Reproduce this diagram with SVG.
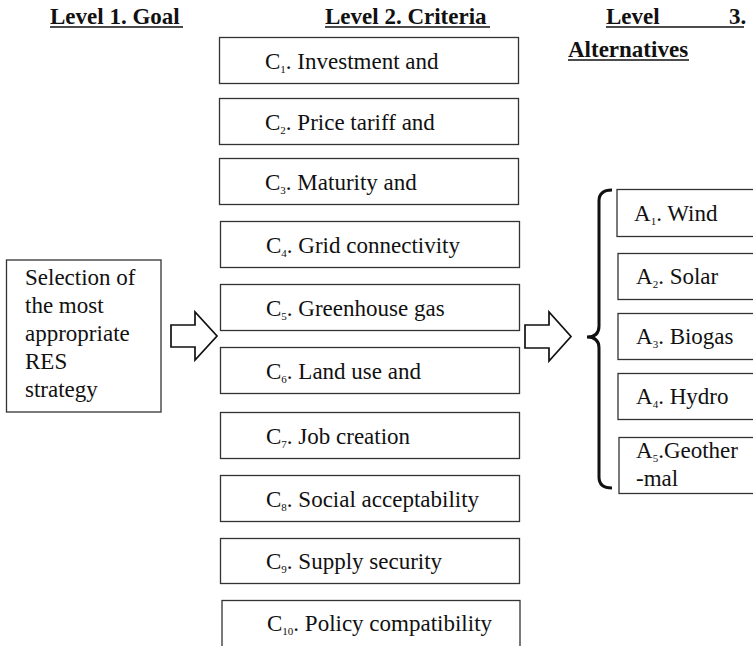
<svg xmlns="http://www.w3.org/2000/svg" width="753" height="646" viewBox="0 0 753 646">
<style>
text{font-family:"Liberation Serif","Times New Roman",serif;font-size:23px;fill:#111}
.h{font-weight:bold}
.box{fill:#fff;stroke:#333;stroke-width:1.3}
.arr{fill:#fff;stroke:#111;stroke-width:1.7;stroke-linejoin:miter}
.ul{stroke:#111;stroke-width:1.6}
.s{font-size:11px}
</style>
<rect width="753" height="646" fill="#fff"/>
<g id="headers">
<text class="h" x="50" y="24">Level 1. Goal</text>
<line class="ul" x1="50" y1="27" x2="183" y2="27"/>
<text class="h" x="325" y="24">Level 2. Criteria</text>
<line class="ul" x1="325" y1="27" x2="490" y2="27"/>
<text class="h" x="606" y="24">Level</text>
<text class="h" x="729" y="24">3.</text>
<line class="ul" x1="606" y1="27" x2="744" y2="27"/>
<text class="h" x="568" y="57">Alternatives</text>
<line class="ul" x1="568" y1="60" x2="689" y2="60"/>
</g>
<g id="goal">
<rect class="box" x="6.5" y="260" width="154.5" height="152"/>
<text x="25" y="285">Selection of</text>
<text x="25" y="313">the most</text>
<text x="25" y="341">appropriate</text>
<text x="25" y="369">RES</text>
<text x="25" y="397">strategy</text>
</g>
<g id="c1"><rect class="box" x="219.5" y="37.5" width="299" height="46"/><text x="265" y="68.5">C<tspan class="s" dy="4">1</tspan><tspan dy="-4">. Investment and</tspan></text></g>
<g id="c2"><rect class="box" x="219.5" y="98.5" width="299" height="46"/><text x="265" y="129.5">C<tspan class="s" dy="4">2</tspan><tspan dy="-4">. Price tariff and</tspan></text></g>
<g id="c3"><rect class="box" x="219.5" y="158.5" width="299" height="46"/><text x="265" y="189.5">C<tspan class="s" dy="4">3</tspan><tspan dy="-4">. Maturity and</tspan></text></g>
<g id="c4"><rect class="box" x="220.5" y="221.5" width="299" height="46"/><text x="266" y="252.5">C<tspan class="s" dy="4">4</tspan><tspan dy="-4">. Grid connectivity</tspan></text></g>
<g id="c5"><rect class="box" x="220.5" y="284.5" width="299" height="46"/><text x="266" y="315.5">C<tspan class="s" dy="4">5</tspan><tspan dy="-4">. Greenhouse gas</tspan></text></g>
<g id="c6"><rect class="box" x="220.5" y="347.5" width="299" height="46"/><text x="266" y="378.5">C<tspan class="s" dy="4">6</tspan><tspan dy="-4">. Land use and</tspan></text></g>
<g id="c7"><rect class="box" x="220.5" y="412.5" width="299" height="46"/><text x="266" y="443.5">C<tspan class="s" dy="4">7</tspan><tspan dy="-4">. Job creation</tspan></text></g>
<g id="c8"><rect class="box" x="220.5" y="475.5" width="299" height="46"/><text x="266" y="506.5">C<tspan class="s" dy="4">8</tspan><tspan dy="-4">. Social acceptability</tspan></text></g>
<g id="c9"><rect class="box" x="220.5" y="538.5" width="299" height="45"/><text x="266" y="569">C<tspan class="s" dy="4">9</tspan><tspan dy="-4">. Supply security</tspan></text></g>
<g id="c10"><rect class="box" x="222" y="600.5" width="298" height="60"/><text x="267" y="631">C<tspan class="s" dy="4">10</tspan><tspan dy="-4">. Policy compatibility</tspan></text></g>
<g id="a1"><rect class="box" x="617" y="189.5" width="150" height="47"/><text x="634" y="221">A<tspan class="s" dy="4">1</tspan><tspan dy="-4">. Wind</tspan></text></g>
<g id="a2"><rect class="box" x="618" y="253.5" width="150" height="46"/><text x="636" y="284">A<tspan class="s" dy="4">2</tspan><tspan dy="-4">. Solar</tspan></text></g>
<g id="a3"><rect class="box" x="618" y="313.5" width="150" height="46"/><text x="636" y="344">A<tspan class="s" dy="4">3</tspan><tspan dy="-4">. Biogas</tspan></text></g>
<g id="a4"><rect class="box" x="618" y="373.5" width="150" height="46"/><text x="636" y="404">A<tspan class="s" dy="4">4</tspan><tspan dy="-4">. Hydro</tspan></text></g>
<g id="a5"><rect class="box" x="619" y="437.5" width="150" height="56"/><text x="636" y="458">A<tspan class="s" dy="4">5</tspan><tspan dy="-4">.Geother</tspan></text><text x="636" y="486">-mal</text></g>
<g id="connectors">
<polygon class="arr" points="171,325 195,325 195,312 217,336 195,360 195,347 171,347"/>
<polygon class="arr" points="525,325 549,325 549,312 571,336.5 549,361 549,348 525,348"/>
<path d="M612,190 Q599,190 599,201 L599,326 Q599,337 587,337 Q599,337 599,348 L599,477 Q599,488 612,488" fill="none" stroke="#111" stroke-width="3"/>
</g>
</svg>
